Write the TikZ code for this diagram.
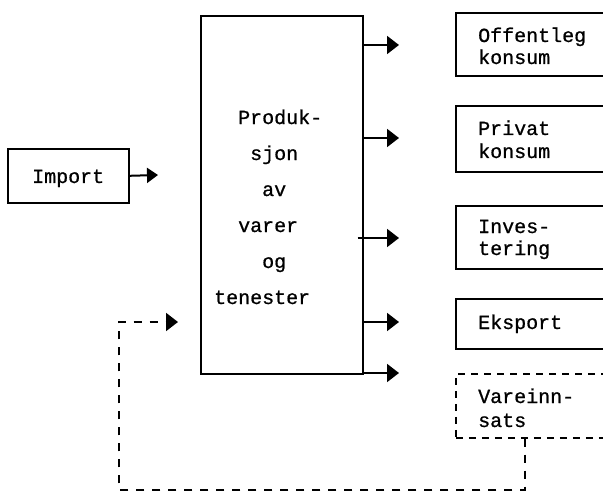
\documentclass[tikz,border=0pt]{standalone}
\usepackage{fontspec}
\newfontfamily\tw[FakeBold=0.8]{Liberation Mono}
\usetikzlibrary{arrows.meta}
\begin{document}
\begin{tikzpicture}[x=1pt,y=-1pt,
  box/.style={draw, line width=1.6pt, inner sep=0pt, anchor=north west},
  dbox/.style={box, dash pattern=on 7pt off 6pt},
  % multi-line labels are placed by the baseline of their last line
  lbl/.style={font=\tw\fontsize{20}{22}\selectfont, inner sep=0pt, anchor=base west, align=left},
  flow/.style={line width=2pt, -{Triangle[length=12pt,width=18pt]}},
  dflow/.style={flow, dash pattern=on 8pt off 8pt},
]
\useasboundingbox (0,0) rectangle (603,492);
\clip (0,0) rectangle (603,492);

% import box
\node[box, minimum width=121pt, minimum height=54pt] (import) at (7,148) {};
\node[lbl] (timport) at (32,183) {Import};

% production box
\node[box, minimum width=162pt, minimum height=358pt] (prod) at (200,15) {};
\node[lbl, font=\tw\fontsize{20}{36}\selectfont] (tprod) at (214,304)
  {\hspace*{24pt}Produk-\\\hspace*{36pt}sjon\\\hspace*{48pt}av\\\hspace*{24pt}varer\\\hspace*{48pt}og\\tenester};

% final use boxes
\node[box, minimum width=148pt, minimum height=63pt] (off) at (455,12) {};
\node[lbl] (toff) at (478,64) {Offentleg\\konsum};
\node[box, minimum width=148pt, minimum height=66pt] (priv) at (455,105) {};
\node[lbl, font=\tw\fontsize{20}{23}\selectfont] (tpriv) at (478,158) {Privat\\konsum};
\node[box, minimum width=148pt, minimum height=63pt] (inv) at (455,205) {};
\node[lbl] (tinv) at (478,255) {Inves-\\tering};
\node[box, minimum width=148pt, minimum height=50pt] (eks) at (455,298) {};
\node[lbl] (teks) at (478,329) {Eksport};
\node[dbox, minimum width=148pt, minimum height=64pt] (vare) at (455,373) {};
\node[lbl, font=\tw\fontsize{20}{24}\selectfont] (tvare) at (478,427) {Vareinn-\\sats};

% arrow ends
\coordinate (imptip) at (158,175);
\coordinate (a1) at (399,45);
\coordinate (a2) at (399,138);
\coordinate (a3) at (399,238);
\coordinate (a4) at (399,322);
\coordinate (a5) at (399,373);
\coordinate (fb) at (525,490);
\coordinate (fl) at (119,490);
\coordinate (dtip) at (178,322);

% flows
\draw[flow, -{Triangle[length=11pt,width=15pt]}] (import.east) -- (imptip);
\draw[flow] (a1 -| prod.east) -- (a1);
\draw[flow] (a2 -| prod.east) -- (a2);
\draw[flow] (a3 -| prod.east) ++(-6,0) -- (a3);
\draw[flow] (a4 -| prod.east) -- (a4);
\draw[flow] (a5 -| prod.east) -- (a5);

% intermediate consumption fed back into production
\draw[dflow] (vare.south -| fb) -- (fb) -- (fl) -- (fl |- dtip) -- (dtip);
\end{tikzpicture}
\end{document}
